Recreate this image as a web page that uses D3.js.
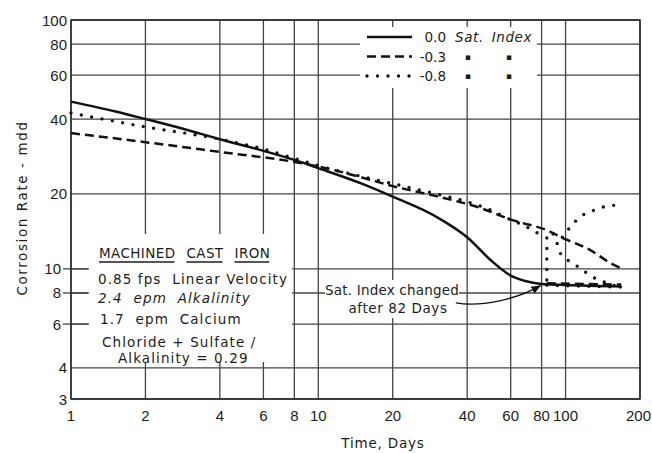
<!DOCTYPE html>
<html>
<head>
<meta charset="utf-8">
<script src="https://cdn.jsdelivr.net/npm/d3@7"></script>
<style>
  body { margin: 0; background: #fff; }
  text { font-family: "DejaVu Sans", sans-serif; fill: #1c1c1c; }
</style>
</head>
<body>
<svg id="chart" width="652" height="453"></svg>
<script>
// axis ticks
const xTicks = [1, 2, 4, 6, 8, 10, 20, 40, 60, 80, 100, 200];
const yTicks = [3, 4, 6, 8, 10, 20, 40, 60, 80, 100];
const stubTicks = [6, 8, 10];

// [days, corrosion rate mdd]
const sat00 = [[1, 47], [1.5, 43], [2, 40], [3, 36], [4, 33.2], [6, 29.8], [8, 27.4], [10, 25.4],
  [15, 22], [20, 19.5], [30, 16.2], [40, 13.4], [50, 10.8], [60, 9.4], [70, 8.9], [80, 8.7],
  [100, 8.62], [168, 8.5]];
const sat03 = [[1, 35.1], [2, 32.3], [4, 29.5], [8, 26.9], [10, 25.8], [15, 23.3], [20, 21.5],
  [30, 19.6], [45, 17.6], [61, 15.7], [84, 14.3], [101, 13.1], [122, 12.1], [156, 10.4], [166, 10.1]];
const sat03After = [[84, 8.75], [168, 8.65]];
const sat08 = [[1, 42.3], [2, 37.2], [4, 33.2], [6, 30.3], [8, 27.8], [10, 26], [15, 23.5],
  [20, 22], [30, 20], [40, 18.6], [50, 17.2], [58, 16], [70, 14.7], [82, 13.4]];
const sat08Drop = [[84, 13.3], [84, 8.7]];
const sat08Rise = [[97, 13.4], [101, 14.0], [104, 14.7], [111, 15.7], [118, 16.5], [127, 17.0],
  [138, 17.6], [151, 17.9], [163, 18.1]];
const sat08Fall = [[89, 13.8], [92, 12.9], [94, 11.9], [98, 11.2], [106, 10.6], [114, 10.1],
  [128, 9.3], [138, 9.0], [156, 8.6], [168, 8.5]];
const sat08After = [[84, 8.6], [168, 8.45]];

const legendRows = [
  { label: "0.0", style: "solid", note: "Sat. Index" },
  { label: "-0.3", style: "dashed", note: "" },
  { label: "-0.8", style: "dotted", note: "" },
];
const boxLines = ["0.85 fps  Linear Velocity", "2.4  epm  Alkalinity", "1.7  epm  Calcium",
  "Chloride + Sulfate /", "Alkalinity = 0.29"];

const svg = d3.select("#chart");
const x = d3.scaleLog().domain([1, 200]).range([71, 640]);
const y = d3.scaleLog().domain([3, 100]).range([399, 20]);

const styles = {
  solid: { width: 2.5, dash: null, cap: "butt" },
  dashed: { width: 2.5, dash: "9 5", cap: "butt" },
  dotted: { width: 3.4, dash: "0 10.5", cap: "round" },
};

// grid
const grid = svg.append("g").attr("stroke", "#444").attr("stroke-width", 1.3);
grid.selectAll(null).data(xTicks).enter().append("line")
  .attr("x1", (d) => x(d)).attr("x2", (d) => x(d))
  .attr("y1", y(100)).attr("y2", y(3));
grid.selectAll(null).data(yTicks).enter().append("line")
  .attr("x1", x(1)).attr("x2", x(200))
  .attr("y1", (d) => y(d)).attr("y2", (d) => y(d));

// white panels behind the notes
const masks = svg.append("g").attr("fill", "#fff");
masks.append("rect").attr("x", 88).attr("y", 234).attr("width", 204).attr("height", 128);
masks.append("rect").attr("x", 360).attr("y", 27).attr("width", 177).attr("height", 61);
masks.append("rect").attr("x", 325).attr("y", 280).attr("width", 134).attr("height", 38);

// tick stubs left of the box
svg.append("g").attr("stroke", "#444").attr("stroke-width", 1.3)
  .selectAll(null).data(stubTicks).enter().append("line")
  .attr("x1", x(1) - 8).attr("x2", x(1) + 18)
  .attr("y1", (d) => y(d)).attr("y2", (d) => y(d));

// frame
svg.append("rect").attr("x", x(1)).attr("y", y(100))
  .attr("width", x(200) - x(1)).attr("height", y(3) - y(100))
  .attr("fill", "none").attr("stroke", "#2a2a2a").attr("stroke-width", 1.5);

// tick labels
svg.append("g").selectAll(null).data(yTicks).enter().append("text")
  .attr("x", (d) => (stubTicks.includes(d) ? x(1) - 10 : x(1) - 4))
  .attr("y", (d) => y(d) + 5.5)
  .attr("text-anchor", "end")
  .style("font-family", "'Liberation Sans', sans-serif").style("font-size", "15px")
  .text((d) => d);
svg.append("g").selectAll(null).data(xTicks).enter().append("text")
  .attr("x", (d) => (d === 200 ? 651 : x(d))).attr("y", 421)
  .attr("text-anchor", (d) => (d === 200 ? "end" : "middle"))
  .style("font-family", "'Liberation Sans', sans-serif").style("font-size", "15px")
  .text((d) => d);

svg.append("text").attr("x", 383).attr("y", 448).attr("text-anchor", "middle")
  .style("font-size", "13.5px").style("letter-spacing", "0.8px").text("Time, Days");
svg.append("text").attr("transform", "translate(27,208) rotate(-90)").attr("text-anchor", "middle")
  .style("font-size", "13.5px").style("letter-spacing", "1.6px").text("Corrosion Rate - mdd");

// series
const line = d3.line().x((d) => x(d[0])).y((d) => y(d[1])).curve(d3.curveMonotoneX);
const straight = d3.line().x((d) => x(d[0])).y((d) => y(d[1]));
const series = [
  [sat00, "solid", line], [sat03, "dashed", line], [sat03After, "dashed", line],
  [sat08, "dotted", line], [sat08Drop, "dotted", straight], [sat08Rise, "dotted", line],
  [sat08Fall, "dotted", line], [sat08After, "dotted", line],
];
svg.append("g").selectAll(null).data(series).enter().append("path")
  .attr("d", (d) => d[2](d[0]))
  .attr("fill", "none").attr("stroke", "#111")
  .attr("stroke-width", (d) => styles[d[1]].width)
  .attr("stroke-dasharray", (d) => styles[d[1]].dash)
  .attr("stroke-linecap", (d) => styles[d[1]].cap);

// legend
const legend = svg.append("g");
legendRows.forEach((r, i) => {
  const ly = 37 + i * 19.5;
  legend.append("line").attr("x1", 367).attr("x2", 412).attr("y1", ly).attr("y2", ly)
    .attr("stroke", "#111").attr("stroke-width", styles[r.style].width)
    .attr("stroke-dasharray", styles[r.style].dash).attr("stroke-linecap", styles[r.style].cap);
  legend.append("text").attr("x", 446).attr("y", ly + 5).attr("text-anchor", "end")
    .style("font-size", "13.5px").text(r.label);
  if (r.note) {
    legend.append("text").attr("x", 455).attr("y", ly + 5).style("font-size", "13.5px")
      .style("font-style", "italic").style("letter-spacing", "0.6px").style("word-spacing", "3px")
      .text(r.note);
  } else {
    [468, 509].forEach((mx) => legend.append("text").attr("x", mx).attr("y", ly + 3)
      .attr("text-anchor", "middle").style("font-size", "9px").text("\u25AA"));
  }
});

// note box
const box = svg.append("g");
let cx = 99;
["MACHINED", "CAST", "IRON"].forEach((w) => {
  const t = box.append("text").attr("x", cx).attr("y", 258).style("font-size", "13.5px")
    .style("letter-spacing", "0.4px").text(w);
  const len = t.node().getComputedTextLength();
  box.append("line").attr("x1", cx).attr("x2", cx + len - 1).attr("y1", 262).attr("y2", 262)
    .attr("stroke", "#1c1c1c").attr("stroke-width", 1.3);
  cx += len + 11;
});
const boxY = [284, 303, 324, 347, 363];
const boxX = [98, 98, 100, 102, 118];
boxLines.forEach((s, i) => {
  box.append("text").attr("x", boxX[i]).attr("y", boxY[i]).style("font-size", "13.5px")
    .style("letter-spacing", "1.1px").style("font-style", i === 1 ? "italic" : "normal")
    .attr("xml:space", "preserve").text(s);
});

// annotation with arrow
const defs = svg.append("defs");
defs.append("marker").attr("id", "arr").attr("viewBox", "0 0 10 10").attr("refX", 9).attr("refY", 5)
  .attr("markerWidth", 7).attr("markerHeight", 7).attr("orient", "auto")
  .append("path").attr("d", "M0,1 L10,5 L0,9 Z").attr("fill", "#111");
svg.append("text").attr("x", 392).attr("y", 295).attr("text-anchor", "middle")
  .style("font-size", "13.5px").style("letter-spacing", "0.2px").text("Sat. Index changed");
svg.append("text").attr("x", 398).attr("y", 313).attr("text-anchor", "middle")
  .style("font-size", "13.5px").style("letter-spacing", "0.6px").text("after 82 Days");
const a0 = [x(36), y(7.3)], a1 = [x(46), y(7.0)], a2 = [x(64), y(7.6)], a3 = [x(79), y(8.55)];
svg.append("path")
  .attr("d", `M${a0}C${a1} ${a2} ${a3}`)
  .attr("fill", "none").attr("stroke", "#111").attr("stroke-width", 1.4)
  .attr("marker-end", "url(#arr)");
</script>
</body>
</html>
